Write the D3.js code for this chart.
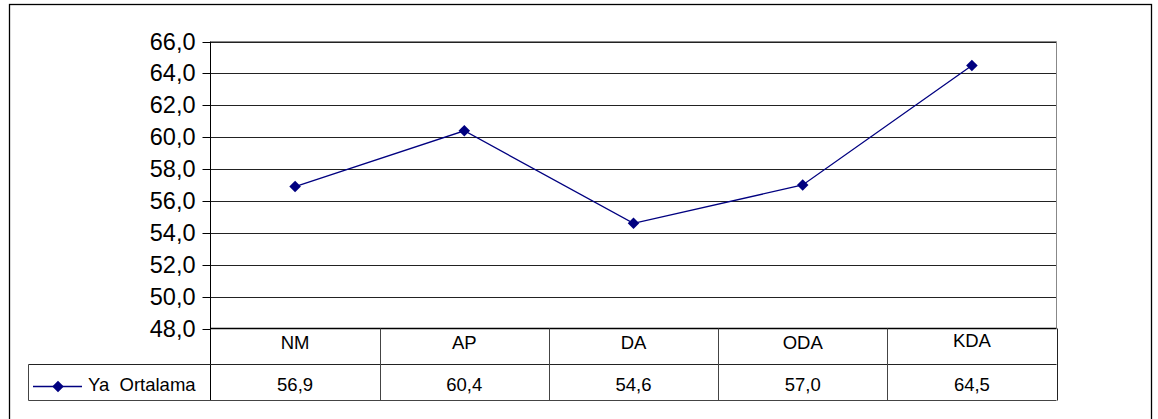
<!DOCTYPE html>
<html>
<head>
<meta charset="utf-8">
<script src="https://cdn.jsdelivr.net/npm/d3@7"></script>
<style>
  body { margin: 0; background: #fff; }
  svg { display: block; font-family: "Liberation Sans", Arial, sans-serif; }
  text { white-space: pre; }
</style>
</head>
<body>
<script>
// veriler
const categories = ['NM', 'AP', 'DA', 'ODA', 'KDA'];
const values = [56.9, 60.4, 54.6, 57.0, 64.5];
const seriesName = 'Ya  Ortalama';
const yTicks = [48, 50, 52, 54, 56, 58, 60, 62, 64, 66];

const W = 1158, H = 419;
const plot = { left: 210.5, right: 1056.5, top: 41.5, bottom: 328.5 };
const rowH = 36;

const svg = d3.select('body')
              .append('svg')
              .attr('width', W)
              .attr('height', H);

// dış çerçeve
svg.append('rect')
   .attr('x', 9.5).attr('y', 4.5)
   .attr('width', 1142).attr('height', 430)
   .attr('fill', 'none')
   .attr('stroke', '#000')
   .attr('stroke-width', 1.3);

const tr = d3.formatLocale({ decimal: ',', thousands: '.', grouping: [3], currency: ['', ''] });
const fmt = tr.format('.1f');

const y = d3.scaleLinear()
            .domain([48, 66])
            .range([plot.bottom, plot.top]);

const x = d3.scaleBand()
            .domain(categories)
            .range([plot.left, plot.right])
            .padding(0);

// yatay çizgiler
svg.append('g')
   .selectAll('line')
   .data(yTicks.filter(d => d > 48))
   .join('line')
   .attr('x1', plot.left).attr('x2', plot.right)
   .attr('y1', d => Math.round(y(d)) + 0.5)
   .attr('y2', d => Math.round(y(d)) + 0.5)
   .attr('stroke', '#222');

// plot alanı kenarı (gri)
svg.append('path')
   .attr('d', `M${plot.left},${plot.top}H${plot.right}V${plot.bottom}`)
   .attr('fill', 'none')
   .attr('stroke', '#888');

// y ekseni
const yAxis = d3.axisLeft(y)
                .tickValues(yTicks)
                .tickFormat(fmt)
                .tickSize(8)
                .tickPadding(7);

const gy = svg.append('g')
   .attr('transform', `translate(${plot.left},0)`)
   .call(yAxis);
gy.select('.domain').remove();
gy.selectAll('.tick line').attr('stroke', '#000');
gy.selectAll('.tick text')
  .attr('font-size', 23.5)
  .attr('font-family', '"Liberation Sans", Arial, sans-serif')
  .attr('fill', '#000');
gy.selectAll('.tick')
  .attr('transform', d => `translate(0,${Math.round(y(d)) + 0.5})`);

svg.append('line')
   .attr('x1', plot.left).attr('x2', plot.left)
   .attr('y1', plot.top).attr('y2', plot.bottom + rowH * 2)
   .attr('stroke', '#000');

// veri tablosu
const tableTop = plot.bottom;
const legendLeft = 28.5;
const tbl = svg.append('g');

// x ekseni (kategori satırının üstü)
tbl.append('line')
   .attr('x1', plot.left).attr('x2', plot.right)
   .attr('y1', tableTop).attr('y2', tableTop)
   .attr('stroke', '#000').attr('stroke-width', 1.4);

tbl.append('line')
   .attr('x1', legendLeft).attr('x2', plot.right)
   .attr('y1', tableTop + rowH).attr('y2', tableTop + rowH)
   .attr('stroke', '#222');

tbl.append('line')
   .attr('x1', legendLeft).attr('x2', plot.right)
   .attr('y1', tableTop + rowH * 2).attr('y2', tableTop + rowH * 2)
   .attr('stroke', '#444');

tbl.append('line')
   .attr('x1', legendLeft).attr('x2', legendLeft)
   .attr('y1', tableTop + rowH).attr('y2', tableTop + rowH * 2)
   .attr('stroke', '#444');

tbl.selectAll('line.col')
   .data(categories)
   .join('line')
   .attr('class', 'col')
   .attr('x1', d => Math.round(x(d) + x.bandwidth()) + 0.5)
   .attr('x2', d => Math.round(x(d) + x.bandwidth()) + 0.5)
   .attr('y1', tableTop).attr('y2', tableTop + rowH * 2)
   .attr('stroke', (d, i) => i === categories.length - 1 ? '#222' : '#444');

tbl.selectAll('text.cat')
   .data(categories)
   .join('text')
   .attr('class', 'cat')
   .attr('x', d => x(d) + x.bandwidth() / 2)
   .attr('y', (d, i) => tableTop + (i === categories.length - 1 ? 18.5 : 20.5))
   .attr('text-anchor', 'middle')
   .attr('font-size', 18.5)
   .text(d => d);

tbl.selectAll('text.val')
   .data(values)
   .join('text')
   .attr('class', 'val')
   .attr('x', (d, i) => x(categories[i]) + x.bandwidth() / 2)
   .attr('y', tableTop + rowH + 26.5)
   .attr('text-anchor', 'middle')
   .attr('font-size', 18.5)
   .text(d => fmt(d));

// lejant anahtarı
const diamond = d3.symbol().type(d3.symbolDiamond2).size(85);
const ly = tableTop + rowH + 22;
tbl.append('line')
   .attr('x1', 33).attr('x2', 82)
   .attr('y1', ly).attr('y2', ly)
   .attr('stroke', '#000080').attr('stroke-width', 1.3);
tbl.append('path')
   .attr('d', diamond)
   .attr('transform', `translate(58,${ly})`)
   .attr('fill', '#000080');
tbl.append('text')
   .attr('x', 88)
   .attr('y', tableTop + rowH + 26.5)
   .attr('font-size', 18.5)
   .text(seriesName);

// seri çizgisi
const line = d3.line()
               .x((d, i) => x(categories[i]) + x.bandwidth() / 2)
               .y(d => y(d));

svg.append('path')
   .datum(values)
   .attr('d', line)
   .attr('fill', 'none')
   .attr('stroke', '#000080')
   .attr('stroke-width', 1.3);

svg.selectAll('path.pt')
   .data(values)
   .join('path')
   .attr('class', 'pt')
   .attr('d', diamond)
   .attr('transform', (d, i) => `translate(${x(categories[i]) + x.bandwidth() / 2},${y(d)})`)
   .attr('fill', '#000080');
</script>
</body>
</html>
